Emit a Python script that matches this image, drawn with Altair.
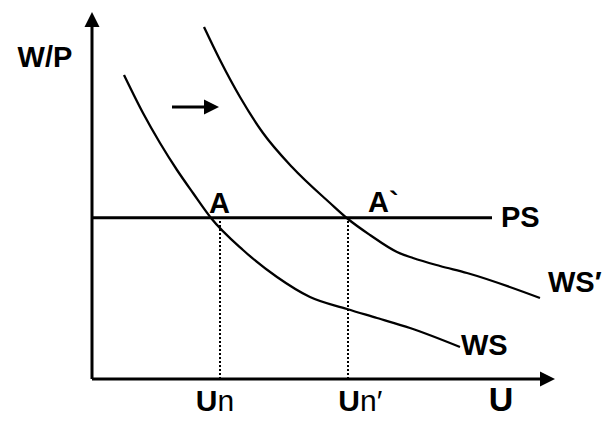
import altair as alt
import pandas as pd

# ---- data (U, W/P in arbitrary diagram units) ----
ws_u = [0.64, 1.02, 1.36, 1.7, 2.02, 2.38, 3.02, 3.7, 4.36, 5.1, 5.7, 6.36, 7.36]
ws_w = [7.6, 6.65, 5.9, 5.225, 4.65, 4.025, 3.225, 2.55, 2.05, 1.75, 1.525, 1.275, 0.8]
ws2_u = [2.24, 2.56, 2.96, 3.42, 4.0, 4.76, 5.12, 5.56, 6.1, 6.42, 6.96, 7.5, 8.96]
ws2_w = [8.8, 7.975, 7.05, 6.15, 5.3, 4.4, 4.0, 3.6, 3.175, 3.025, 2.825, 2.65, 2.025]
ps_level = 4.03
ps_range = [0.0, 8.0]
un_values = [2.56, 5.12]
axis_u_end = 9.26
axis_w_end = 9.175
shift_u = [1.6, 2.54]
shift_w = 6.8

bold_labels = ["W/P", "A", "A`", "PS", "WS", "WS′"]
bold_u = [-0.94, 2.55, 5.52, 8.18, 7.38, 9.12]
bold_w = [7.8, 4.15, 4.175, 3.8, 0.6, 2.175]
bold_align = ["center", "center", "left", "left", "left", "left"]

u_label = "U"
u_label_pos = [8.18, -0.8]
un_sub = ["n", "n′"]
un_label_u = [2.51, 5.36]
un_label_w = -0.8

X_DOM = [-1.68, 10.22]
Y_DOM = [-0.95, 9.275]


def xs(field="u"):
    return alt.X(f"{field}:Q", scale=alt.Scale(domain=X_DOM, nice=False, zero=False), axis=None)


def ys(field="w"):
    return alt.Y(f"{field}:Q", scale=alt.Scale(domain=Y_DOM, nice=False, zero=False), axis=None)


curves = pd.DataFrame(
    [{"s": "WS", "u": u, "w": w, "o": i} for i, (u, w) in enumerate(zip(ws_u, ws_w))]
    + [{"s": "WS2", "u": u, "w": w, "o": i} for i, (u, w) in enumerate(zip(ws2_u, ws2_w))]
)

curve_layer = alt.Chart(curves).mark_line(
    color="black", strokeWidth=2.3, interpolate="monotone"
).encode(x=xs(), y=ys(), detail="s:N", order="o:Q")

solid_rules = pd.DataFrame(
    [
        {"u": 0.0, "w": 0.0, "u2": axis_u_end - 0.2, "w2": 0.0},
        {"u": 0.0, "w": 0.0, "u2": 0.0, "w2": axis_w_end - 0.2},
        {"u": ps_range[0], "w": ps_level, "u2": ps_range[1], "w2": ps_level},
        {"u": shift_u[0], "w": shift_w, "u2": shift_u[1] - 0.1, "w2": shift_w},
    ]
)
rule_layer = alt.Chart(solid_rules).mark_rule(color="black", strokeWidth=3).encode(
    x=xs(), y=ys(), x2="u2:Q", y2="w2:Q"
)

dots = pd.DataFrame(
    [{"u": v, "w": 0.0, "w2": ps_level} for v in un_values]
)
dot_layer = alt.Chart(dots).mark_rule(
    color="black", strokeWidth=2, strokeDash=[2, 2]
).encode(x=xs(), y=ys(), y2="w2:Q")

right_heads = pd.DataFrame(
    [{"u": axis_u_end, "w": 0.0}, {"u": shift_u[1], "w": shift_w}]
)
right_layer = alt.Chart(right_heads).mark_point(
    shape="M0,0L-2,-1L-2,1Z", size=225, filled=True, color="black", opacity=1, strokeWidth=0
).encode(x=xs(), y=ys())

up_heads = pd.DataFrame([{"u": 0.0, "w": axis_w_end}])
up_layer = alt.Chart(up_heads).mark_point(
    shape="M0,0L-1,2L1,2Z", size=225, filled=True, color="black", opacity=1, strokeWidth=0
).encode(x=xs(), y=ys())

FONT = "Liberation Sans"

bl = pd.DataFrame({"t": bold_labels, "u": bold_u, "w": bold_w, "a": bold_align})
text_layers = []
for a in ["center", "left"]:
    text_layers.append(
        alt.Chart(bl[bl.a == a]).mark_text(
            font=FONT, fontSize=29, fontWeight="bold", align=a, baseline="alphabetic", color="black"
        ).encode(x=xs(), y=ys(), text="t:N")
    )

ul = pd.DataFrame({"t": [u_label], "u": [u_label_pos[0]], "w": [u_label_pos[1]]})
text_layers.append(
    alt.Chart(ul).mark_text(
        font=FONT, fontSize=34, fontWeight="bold", align="center", baseline="alphabetic", color="black"
    ).encode(x=xs(), y=ys(), text="t:N")
)

unb = pd.DataFrame({"t": ["U", "U"], "u": un_label_u, "w": [un_label_w] * 2})
text_layers.append(
    alt.Chart(unb).mark_text(
        font=FONT, fontSize=30, fontWeight="bold", align="right", baseline="alphabetic", color="black"
    ).encode(x=xs(), y=ys(), text="t:N")
)
unr = pd.DataFrame({"t": un_sub, "u": un_label_u, "w": [un_label_w] * 2})
text_layers.append(
    alt.Chart(unr).mark_text(
        font=FONT, fontSize=30, fontWeight="normal", align="left", baseline="alphabetic", color="black"
    ).encode(x=xs(), y=ys(), text="t:N")
)

chart = alt.layer(
    curve_layer, rule_layer, dot_layer, right_layer, up_layer, *text_layers
).properties(
    width=595, height=409, padding=0, autosize=alt.AutoSizeParams(type="none"), background="white"
).configure_view(stroke=None)

chart.save("out.html", embed_options={"renderer": "svg", "actions": False})
